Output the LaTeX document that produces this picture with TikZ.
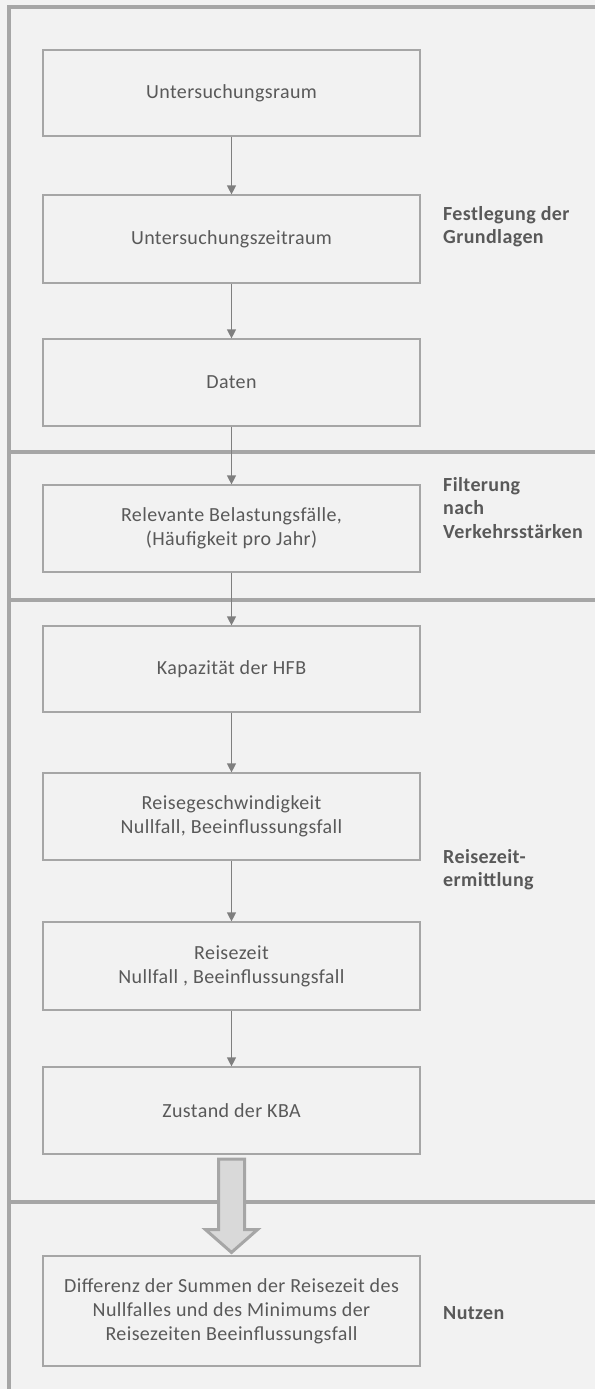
\documentclass[tikz,border=0pt]{standalone}
\usepackage{fontspec}
\setmainfont{Carlito}[LetterSpace=2]
\usetikzlibrary{calc,arrows.meta}
\definecolor{bg}{HTML}{F2F2F2}
\definecolor{framec}{HTML}{A6A6A6}
\definecolor{boxc}{HTML}{A6A6A6}
\definecolor{txt}{HTML}{595959}
\definecolor{arrc}{HTML}{7F7F7F}
\definecolor{bigfill}{HTML}{D9D9D9}
\tikzset{
  stepbox/.style={draw=boxc, line width=1.2pt, minimum width=377pt, inner sep=0pt,
    align=center, text=txt, font=\fontsize{20}{24}\selectfont},
  flowarrow/.style={draw=arrc, line width=1.2pt, -{Triangle[width=9pt,length=9pt]}},
  frameline/.style={draw=framec, line width=3.5pt},
  sectlabel/.style={inner sep=0pt, align=left, text=txt, font=\fontsize{20}{23.5}\selectfont\bfseries},
  bigarrow/.style={draw=framec, fill=bigfill, line width=3pt, line join=miter}
}
\begin{document}
\begin{tikzpicture}[x=1pt,y=-1pt]
\useasboundingbox[fill=bg] (0,0) rectangle (595,1389);
% frame
\coordinate (tl) at (9,7);
\coordinate (tr) at (595,7);
\coordinate (bl) at (9,1389);
\draw[frameline] ($(tl)+(0,-1.75)$) -- (bl);
\draw[frameline] ($(tl)+(-1.75,0)$) -- (tr);
\coordinate (s1l) at (7.25,452); \coordinate (s1r) at (595,452);
\coordinate (s2l) at (7.25,600); \coordinate (s2r) at (595,600);
\coordinate (s3l) at (7.25,1202); \coordinate (s3r) at (595,1202);
\draw[frameline] (s1l) -- (s1r);
\draw[frameline] (s2l) -- (s2r);
\draw[frameline] (s3l) -- (s3r);
% boxes
\node[stepbox, minimum height=86pt] (b1) at (231.5,93) {Untersuchungsraum};
\node[stepbox, minimum height=88pt] (b2) at (231.5,239) {Untersuchungszeitraum};
\node[stepbox, minimum height=87pt] (b3) at (231.5,382.5) {Daten};
\node[stepbox, minimum height=87pt] (b4) at (231.5,528.5) {Relevante Belastungsfälle,\\(Häufigkeit pro Jahr)};
\node[stepbox, minimum height=86pt] (b5) at (231.5,669) {Kapazität der HFB};
\node[stepbox, minimum height=87pt] (b6) at (231.5,816.5) {Reisegeschwindigkeit\\Nullfall, Beeinflussungsfall};
\node[stepbox, minimum height=88pt] (b7) at (231.5,966) {Reisezeit\\Nullfall , Beeinflussungsfall};
\node[stepbox, minimum height=87pt] (b8) at (231.5,1110.5) {Zustand der KBA};
\node[stepbox, minimum height=110pt] (b9) at (231.5,1311) {Differenz der Summen der Reisezeit des\\Nullfalles und des Minimums der\\Reisezeiten Beeinflussungsfall};
% arrows
\foreach \a/\b in {b1/b2,b2/b3,b3/b4,b4/b5,b5/b6,b6/b7,b7/b8}
  \draw[flowarrow] (\a.south) -- (\b.north);
% big arrow
\draw[bigarrow]
  ($(b8.south)+(-13,4.5)$) -- ($(b8.south)+(13,4.5)$) --
  ($(b8.south)+(13,75)$) -- ($(b8.south)+(26,75)$) --
  ($(b9.north)+(0,-3)$) --
  ($(b8.south)+(-26,75)$) -- ($(b8.south)+(-13,75)$) -- cycle;
% section labels
\node[sectlabel, anchor=north west] (l1) at (443,206) {Festlegung der\\Grundlagen};
\node[sectlabel, anchor=north west] (l2) at (443,477) {Filterung\\nach\\Verkehrsstärken};
\node[sectlabel, anchor=north west] (l3) at (443,849) {Reisezeit-\\ermittlung};
\node[sectlabel, anchor=base west] (l4) at (443,1319) {Nutzen};
\end{tikzpicture}
\end{document}
